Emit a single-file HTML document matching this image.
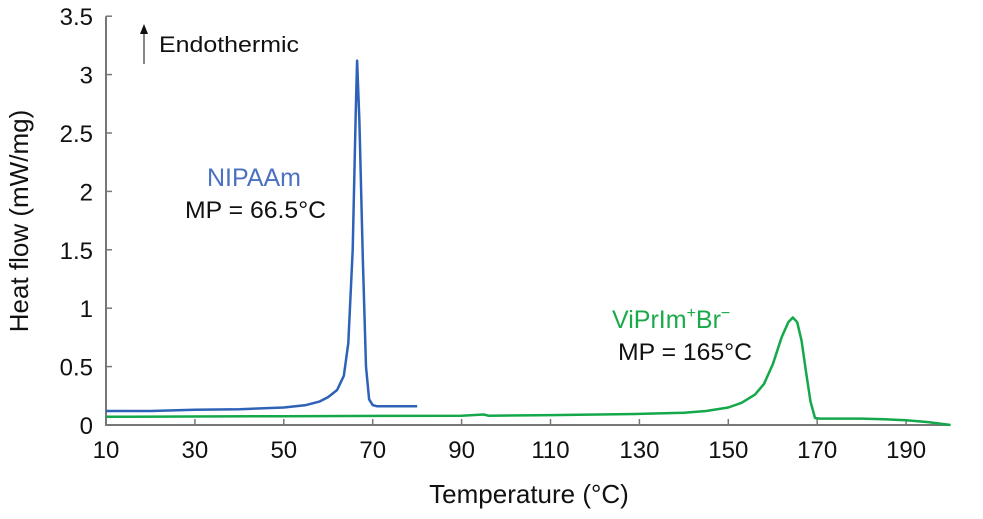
<!DOCTYPE html>
<html><head><meta charset="utf-8"><style>
body{margin:0;background:#fff;}
svg text{font-family:"Liberation Sans",sans-serif;}
</style></head><body>
<svg width="983" height="514" viewBox="0 0 983 514" xmlns="http://www.w3.org/2000/svg">
<g id="axes"></g>
<g id="series"></g>
<g>
<line x1="144" y1="64" x2="144" y2="32" stroke="#888" stroke-width="2"/>
<polygon points="140,34 148,34 144,24" fill="#111"/>
<text x="159" y="52" font-size="22" fill="#111" textLength="140" lengthAdjust="spacingAndGlyphs">Endothermic</text>
</g>
<text x="207" y="186" font-size="25" fill="#4a72c0" textLength="94" lengthAdjust="spacingAndGlyphs">NIPAAm</text>
<text x="185" y="218" font-size="24" fill="#111" textLength="141" lengthAdjust="spacingAndGlyphs">MP = 66.5°C</text>
<text x="612" y="328" font-size="25" fill="#1aaa4a">ViPrIm<tspan dy="-10" font-size="16">+</tspan><tspan dy="10">Br</tspan><tspan dy="-10" font-size="16">−</tspan></text>
<text x="618" y="360" font-size="24" fill="#111" textLength="134" lengthAdjust="spacingAndGlyphs">MP = 165°C</text>
<text x="529" y="503" font-size="26" fill="#111" text-anchor="middle">Temperature (°C)</text>
<text transform="translate(28,221) rotate(-90)" font-size="26" fill="#111" text-anchor="middle">Heat flow (mW/mg)</text>
</svg>
<script>
const xTicks=[10,30,50,70,90,110,130,150,170,190];
const yTicks=[0,0.5,1,1.5,2,2.5,3,3.5];
const yTickLabels=["0","0.5","1","1.5","2","2.5","3","3.5"];
const nipaamT=[10,20,30,40,50,55,58,60,62,63.5,64.5,65.5,66.2,66.5,67,67.8,68.5,69.2,70,71,75,80];
const nipaamHF=[0.12,0.12,0.13,0.135,0.15,0.17,0.2,0.24,0.3,0.42,0.7,1.5,2.7,3.12,2.6,1.4,0.5,0.22,0.17,0.16,0.16,0.16];
const viT=[10,50,90,95,96,110,130,140,145,150,153,156,158,160,162,163.5,164.5,165.5,166.5,167.5,168.5,169.5,170.5,180,185,190,195,200];
const viHF=[0.07,0.075,0.08,0.09,0.08,0.085,0.095,0.105,0.12,0.15,0.19,0.26,0.35,0.52,0.75,0.88,0.92,0.88,0.72,0.45,0.2,0.06,0.055,0.055,0.05,0.04,0.025,0.0];
const NS="http://www.w3.org/2000/svg";
const x=v=>106+(v-10)*4.445;
const y=v=>425-v*116.8;
function mk(tag,attrs,parent){const e=document.createElementNS(NS,tag);for(const k in attrs)e.setAttribute(k,attrs[k]);parent.appendChild(e);return e;}
const ax=document.getElementById('axes');
let l=mk('line',{x1:106,y1:y(3.5),x2:106,y2:426,stroke:'#777','stroke-width':2},ax);


l=mk('line',{x1:105,y1:425,x2:x(200),y2:425,stroke:'#777','stroke-width':2},ax);


xTicks.forEach(t=>{
  const tk=mk('line',{x1:x(t),y1:425,x2:x(t),y2:419,stroke:'#777','stroke-width':1.5},ax);
  
  
  const tx=mk('text',{x:x(t),y:458,'font-size':24,'text-anchor':'middle',fill:'#111'},ax);
  tx.textContent=t;
  
  
});
yTicks.forEach((t,i)=>{
  const tk=mk('line',{x1:106,y1:y(t),x2:112,y2:y(t),stroke:'#777','stroke-width':1.5},ax);
  
  
  const tx=mk('text',{x:93,y:y(t)+9,'font-size':24,'text-anchor':'end',fill:'#111'},ax);
  tx.textContent=yTickLabels[i];
  
  
});
const sg=document.getElementById('series');
function line(ts,vs,color,name){
  const d=ts.map((t,i)=>(i?'L':'M')+x(t).toFixed(1)+','+y(vs[i]).toFixed(1)).join(' ');
  const p=mk('path',{d:d,fill:'none',stroke:color,'stroke-width':2.5,'stroke-linejoin':'round'},sg);
  
  
}
line(viT,viHF,'#14a84a','viprim-curve');
line(nipaamT,nipaamHF,'#2e62b8','nipaam-curve');
</script>
</body></html>
